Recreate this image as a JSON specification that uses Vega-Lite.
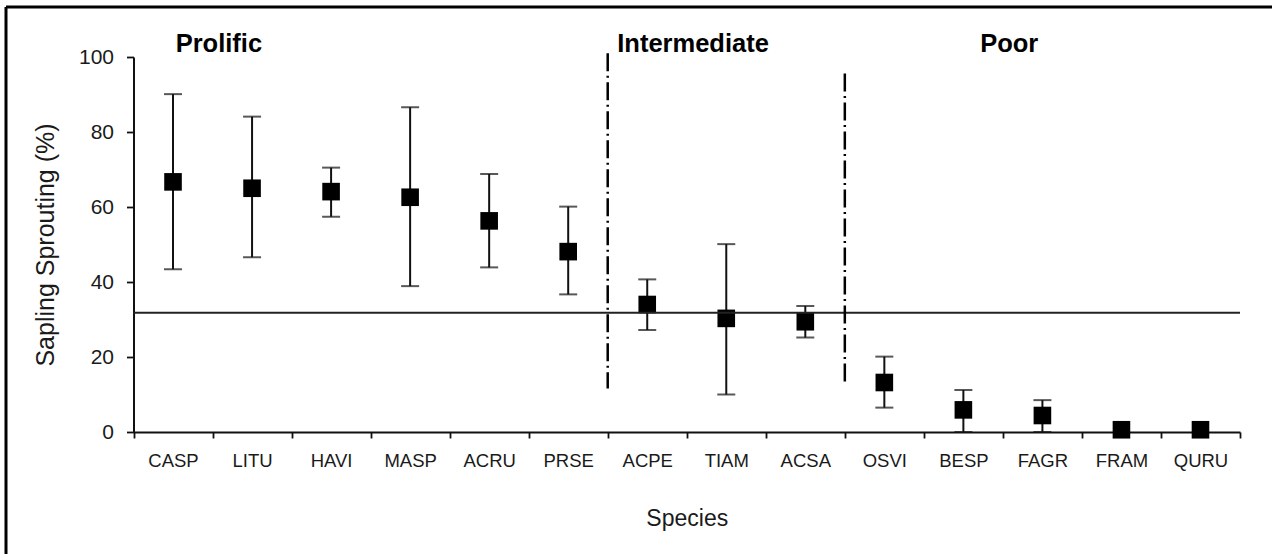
{
  "$schema": "https://vega.github.io/schema/vega-lite/v6.json",
  "width": 1266,
  "height": 547,
  "autosize": {"type": "none"},
  "padding": {"left": 6, "top": 7, "right": 0, "bottom": 0},
  "background": "white",
  "config": {
    "view": {"stroke": "#000", "strokeWidth": 3, "strokeDash": [1266, 1813, 547, 0]},
    "font": "Liberation Sans",
    "axis": {
      "domainColor": "#111", "domainWidth": 2, "tickColor": "#111", "tickWidth": 1.8,
      "labelColor": "#1a1a1a", "titleColor": "#1a1a1a", "labelFont": "Liberation Sans",
      "titleFont": "Liberation Sans", "grid": false, "titleFontWeight": "normal"
    },
    "axisX": {"tickSize": 6, "labelFontSize": 18.5, "labelPadding": 13, "titleFontSize": 23, "titlePadding": 38},
    "axisY": {"tickSize": 7, "labelFontSize": 21, "labelPadding": 13, "titleFontSize": 25, "titlePadding": 20}
  },
  "datasets": {
    "pts": [
      {"species": "CASP", "mean": 66.7, "lo": 43.4, "hi": 90.1},
      {"species": "LITU", "mean": 65.0, "lo": 46.6, "hi": 84.1},
      {"species": "HAVI", "mean": 64.1, "lo": 57.4, "hi": 70.5},
      {"species": "MASP", "mean": 62.6, "lo": 38.9, "hi": 86.6},
      {"species": "ACRU", "mean": 56.3, "lo": 43.9, "hi": 68.8},
      {"species": "PRSE", "mean": 48.1, "lo": 36.7, "hi": 60.1},
      {"species": "ACPE", "mean": 34.0, "lo": 27.2, "hi": 40.7},
      {"species": "TIAM", "mean": 30.3, "lo": 10.0, "hi": 50.1},
      {"species": "ACSA", "mean": 29.4, "lo": 25.2, "hi": 33.6},
      {"species": "OSVI", "mean": 13.2, "lo": 6.5, "hi": 20.1},
      {"species": "BESP", "mean": 5.9, "lo": 0, "hi": 11.2},
      {"species": "FAGR", "mean": 4.4, "lo": 0, "hi": 8.5},
      {"species": "FRAM", "mean": 0.6, "lo": null, "hi": null},
      {"species": "QURU", "mean": 0.6, "lo": null, "hi": null}
    ],
    "ref": [{"species": "CASP", "end": "QURU", "level": 31.8}],
    "div": [
      {"species": "ACPE", "top": 101, "bottom": 11.6},
      {"species": "OSVI", "top": 95.6, "bottom": 13.4}
    ],
    "groups": [
      {"species": "LITU", "label": "Prolific"},
      {"species": "TIAM", "label": "Intermediate"},
      {"species": "FAGR", "label": "Poor"}
    ]
  },
  "layer": [
    {
      "data": {"name": "pts"},
      "mark": {"type": "rule", "color": "#111", "strokeWidth": 2},
      "encoding": {
        "x": {"field": "species", "type": "nominal", "title": "Species",
          "scale": {"domain": ["CASP","LITU","HAVI","MASP","ACRU","PRSE","ACPE","TIAM","ACSA","OSVI","BESP","FAGR","FRAM","QURU"], "range": [127.5, 1234], "paddingInner": 0, "paddingOuter": 0},
          "axis": {"offset": -122, "tickBand": "extent", "labelAngle": 0}},
        "y": {"field": "lo", "type": "quantitative", "title": "Sapling Sprouting (%)",
          "scale": {"domain": [0, 100], "range": [425, 50], "nice": false, "zero": false},
          "axis": {"offset": -127.5, "values": [0, 20, 40, 60, 80, 100]}},
        "y2": {"field": "hi"}
      }
    },
    {
      "data": {"name": "pts"},
      "mark": {"type": "tick", "orient": "horizontal", "size": 18, "thickness": 2, "color": "#111"},
      "encoding": {
        "x": {"field": "species", "type": "nominal", "title": "Species"},
        "y": {"field": "hi", "type": "quantitative", "title": "Sapling Sprouting (%)"}
      }
    },
    {
      "data": {"name": "pts"},
      "mark": {"type": "tick", "orient": "horizontal", "size": 18, "thickness": 2, "color": "#111"},
      "encoding": {
        "x": {"field": "species", "type": "nominal", "title": "Species"},
        "y": {"field": "lo", "type": "quantitative", "title": "Sapling Sprouting (%)"}
      }
    },
    {
      "data": {"name": "pts"},
      "mark": {"type": "square", "size": 310, "color": "#000", "opacity": 1, "filled": true},
      "encoding": {
        "x": {"field": "species", "type": "nominal", "title": "Species"},
        "y": {"field": "mean", "type": "quantitative", "title": "Sapling Sprouting (%)"}
      }
    },
    {
      "data": {"name": "ref"},
      "mark": {"type": "rule", "color": "#222", "strokeWidth": 2.2},
      "encoding": {
        "x": {"field": "species", "type": "nominal", "title": "Species", "bandPosition": 0},
        "x2": {"field": "end", "bandPosition": 1},
        "y": {"field": "level", "type": "quantitative", "title": "Sapling Sprouting (%)"}
      }
    },
    {
      "data": {"name": "div"},
      "mark": {"type": "rule", "color": "#000", "strokeWidth": 2.5, "strokeDash": [18, 4.5, 2, 4.5]},
      "encoding": {
        "x": {"field": "species", "type": "nominal", "title": "Species", "bandPosition": 0},
        "y": {"field": "top", "type": "quantitative", "title": "Sapling Sprouting (%)"},
        "y2": {"field": "bottom"}
      }
    },
    {
      "data": {"name": "groups"},
      "mark": {"type": "text", "font": "Liberation Sans", "fontWeight": "bold", "fontSize": 25.5, "align": "center", "baseline": "alphabetic", "color": "#000"},
      "encoding": {
        "x": {"field": "species", "type": "nominal", "title": "Species", "bandPosition": 0.08},
        "y": {"datum": 101.3, "type": "quantitative"},
        "text": {"field": "label"}
      }
    }
  ]
}
